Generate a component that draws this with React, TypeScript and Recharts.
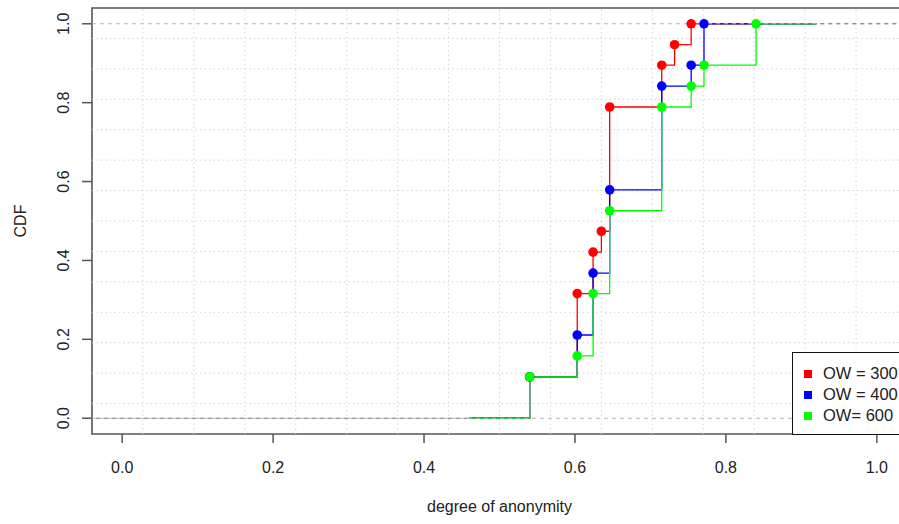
import { LineChart, Line, XAxis, YAxis, ReferenceLine, ReferenceArea } from "recharts";

// ecdf knots (degree of anonymity) and cumulative values
const ow300Knots = [0.54, 0.603, 0.624, 0.635, 0.646, 0.715, 0.732, 0.754];
const ow300Cdf = [0.105, 0.316, 0.421, 0.474, 0.789, 0.895, 0.947, 1.0];

const ow400Knots = [0.54, 0.603, 0.624, 0.646, 0.715, 0.754, 0.771];
const ow400Cdf = [0.105, 0.211, 0.368, 0.579, 0.842, 0.895, 1.0];

const ow600Knots = [0.54, 0.603, 0.624, 0.646, 0.715, 0.754, 0.771, 0.84];
const ow600Cdf = [0.105, 0.158, 0.316, 0.526, 0.789, 0.842, 0.895, 1.0];

// where the step lines start (at 0) and stop (at 1)
const stepStart = 0.46;
const stepEnd = 0.92;

const xTicks = [0, 0.2, 0.4, 0.6, 0.8, 1.0];
const yTicks = [0, 0.2, 0.4, 0.6, 0.8, 1.0];

const seriesNames = ["OW = 300", "OW = 400", "OW= 600"];
const seriesColors = ["#ff0000", "#0000ff", "#00ff00"];

// R-style plot region: data range extended by 4%
const usr: [number, number] = [-0.04, 1.04];
const gridX = Array.from({ length: 15 }, (_, k) => usr[0] + ((k + 1) * (usr[1] - usr[0])) / 16);
const gridY = Array.from({ length: 13 }, (_, k) => usr[0] + ((k + 1) * (usr[1] - usr[0])) / 14);

const FONT = '"Liberation Sans", Arial, Helvetica, sans-serif';
const AXIS_GRAY = "#555";

const toSteps = (knots: number[], cdf: number[]) => [
  { x: stepStart, y: 0, knot: false },
  ...knots.map((x, i) => ({ x, y: cdf[i], knot: true })),
  { x: stepEnd, y: 1, knot: false },
];

const series = [
  toSteps(ow300Knots, ow300Cdf),
  toSteps(ow400Knots, ow400Cdf),
  toSteps(ow600Knots, ow600Cdf),
];

// dashed 0 / 1 guide lines (drawn over the steps, like abline in R)
const zeroLine = [{ x: usr[0], y: 0 }, { x: usr[1], y: 0 }];
const oneLine = [{ x: usr[0], y: 1 }, { x: usr[1], y: 1 }];
const zeroDark = [{ x: usr[0], y: 0 }, { x: stepStart, y: 0 }];
const oneDark = [{ x: stepEnd, y: 1 }, { x: usr[1], y: 1 }];

const XTick = ({ x, y, payload }: any) => (
  <text x={x} y={y} textAnchor="middle" dominantBaseline="central" fontSize={16} fontFamily={FONT} fill="#222">
    {Number(payload.value).toFixed(1)}
  </text>
);

const YTick = ({ x, y, payload }: any) => (
  <text
    x={x}
    y={y}
    textAnchor="middle"
    dominantBaseline="central"
    fontSize={16}
    fontFamily={FONT}
    fill="#222"
    transform={`rotate(-90 ${x} ${y})`}
  >
    {Number(payload.value).toFixed(1)}
  </text>
);

const LegendBox = () => (
  <div
    style={{
      position: "absolute",
      left: 792,
      top: 352,
      boxSizing: "border-box",
      width: 116,
      height: 83,
      border: "1px solid #111",
      background: "#fff",
      paddingTop: 10,
      fontFamily: FONT,
      fontSize: 16.5,
      color: "#222",
    }}
  >
    {seriesNames.map((name, i) => (
      <div key={name} style={{ display: "flex", alignItems: "center", height: 21, whiteSpace: "nowrap" }}>
        <span style={{ width: 8, height: 8, background: seriesColors[i], marginLeft: 11, marginRight: 11 }} />
        <span>{name}</span>
      </div>
    ))}
  </div>
);

const makeDot = (color: string) => (props: any) => {
  const { cx, cy, payload, index } = props;
  if (!payload?.knot) return <g key={`d-${index}`} />;
  return <circle key={`d-${index}`} cx={cx} cy={cy} r={4.8} fill={color} stroke="none" />;
};

const guide = (key: string, data: any[], color: string, offset = 0) => (
  <Line
    key={key}
    data={data}
    dataKey="y"
    type="linear"
    stroke={color}
    strokeWidth={1.1}
    strokeDasharray="4 4"
    strokeDashoffset={offset}
    dot={false}
    activeDot={false}
    legendType="none"
    isAnimationActive={false}
  />
);

export default function App() {
  return (
    <div
      style={{
        position: "absolute",
        left: 0,
        top: 0,
        width: 899,
        height: 524,
        overflow: "hidden",
        background: "#fff",
      }}
    >
      <LineChart width={930} height={524} margin={{ top: 8, right: 23, bottom: 10, left: 0 }}>
        <XAxis
          dataKey="x"
          type="number"
          domain={usr}
          ticks={xTicks}
          allowDataOverflow
          axisLine={false}
          tickSize={9}
          tickMargin={24}
          tickLine={{ stroke: AXIS_GRAY, strokeWidth: 1.5 }}
          tick={<XTick />}
          height={80}
          label={{
            content: ({ viewBox }: any) => (
              <text
                x={viewBox.x + viewBox.width / 2}
                y={viewBox.y + 78}
                textAnchor="middle"
                fontSize={16}
                fontFamily={FONT}
                fill="#222"
              >
                degree of anonymity
              </text>
            ),
          }}
        />
        <YAxis
          dataKey="y"
          type="number"
          domain={usr}
          ticks={yTicks}
          allowDataOverflow
          axisLine={false}
          tickSize={10}
          tickMargin={18}
          tickLine={{ stroke: AXIS_GRAY, strokeWidth: 1.5 }}
          tick={<YTick />}
          width={92}
          label={{
            content: ({ viewBox }: any) => {
              const cx = viewBox.x + 20;
              const cy = viewBox.y + viewBox.height / 2;
              return (
                <text
                  x={cx}
                  y={cy}
                  textAnchor="middle"
                  dominantBaseline="central"
                  fontSize={16}
                  fontFamily={FONT}
                  fill="#222"
                  transform={`rotate(-90 ${cx} ${cy})`}
                >
                  CDF
                </text>
              );
            },
          }}
        />

        {gridX.map((v) => (
          <ReferenceLine key={`gx-${v}`} x={v} stroke="#d6d6d6" strokeDasharray="1.5 3" />
        ))}
        {gridY.map((v) => (
          <ReferenceLine key={`gy-${v}`} y={v} stroke="#d6d6d6" strokeDasharray="1.5 3" />
        ))}

        {series.map((data, i) => (
          <Line
            key={seriesNames[i]}
            data={data}
            dataKey="y"
            name={seriesNames[i]}
            type="stepAfter"
            stroke={seriesColors[i]}
            strokeWidth={1.3}
            dot={makeDot(seriesColors[i])}
            activeDot={false}
            isAnimationActive={false}
          />
        ))}

        {guide("zero", zeroLine, "#b8b8b8")}
        {guide("one", oneLine, "#b8b8b8")}
        {guide("zero-dark", zeroDark, "#777", 4)}
        {guide("one-dark", oneDark, "#777", 4)}

        <ReferenceArea
          x1={usr[0]}
          x2={usr[1]}
          y1={usr[0]}
          y2={usr[1]}
          fill="none"
          fillOpacity={0}
          stroke={AXIS_GRAY}
          strokeWidth={1.6}
        />
      </LineChart>
      <LegendBox />
    </div>
  );
}
